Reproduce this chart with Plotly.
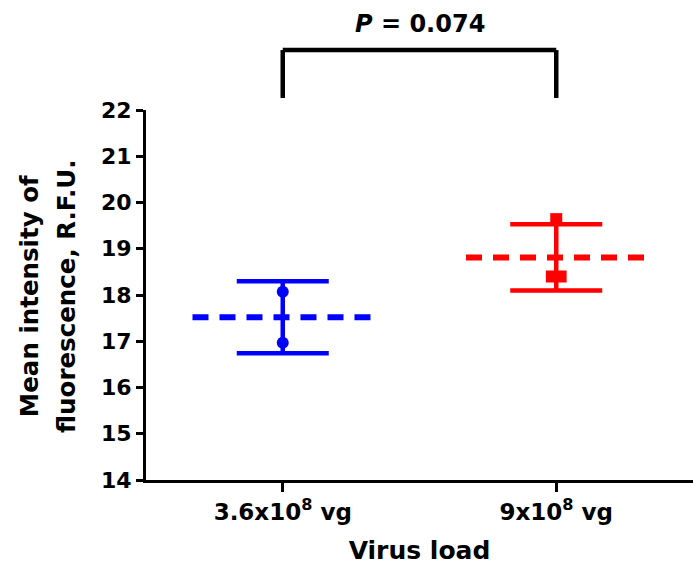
import numpy as np
import plotly.graph_objects as go

# ---- data ----
categories = ["3.6x10<sup>8</sup> vg", "9x10<sup>8</sup> vg"]
low_load_values = [18.07, 16.97]          # 3.6x10^8 vg (blue)
high_load_values = [19.64, 18.40, 18.40]  # 9x10^8 vg (red)
y_tick_values = [14, 15, 16, 17, 18, 19, 20, 21, 22]
p_value_label = "<i>P</i> = 0.074"
x_title = "Virus load"
y_title_lines = ["Mean intensity of", "fluorescence, R.F.U."]

series = [low_load_values, high_load_values]
colors = ["#0000FF", "#FF0000"]
symbols = ["circle", "square"]

FONT = "DejaVu Sans"
mean_half = 0.33      # half-length of dashed mean line (x units)
dup_step = 0.032      # side-by-side spacing for identical values


def spread(values, step):
    """Place identical values side by side (dot-plot style)."""
    offs = []
    counts = {}
    for v in values:
        counts[v] = counts.get(v, 0) + 1
    seen = {}
    for v in values:
        n = counts[v]
        k = seen.get(v, 0)
        seen[v] = k + 1
        offs.append((k - (n - 1) / 2) * step)
    return offs


fig = go.Figure()

for i, (vals, col, sym) in enumerate(zip(series, colors, symbols)):
    arr = np.array(vals)
    m = arr.mean()
    sd = arr.std(ddof=1)
    # dashed mean line
    fig.add_trace(go.Scatter(
        x=[i - mean_half, i + mean_half], y=[m, m], mode="lines",
        line=dict(color=col, width=6, dash="16px,11px"),
        hoverinfo="skip", showlegend=False, cliponaxis=False))
    # SD error bar
    fig.add_trace(go.Scatter(
        x=[i], y=[m], mode="markers",
        marker=dict(size=4, color=col),
        error_y=dict(type="data", array=[sd], visible=True,
                     color=col, thickness=4.5, width=46),
        showlegend=False, cliponaxis=False))
    # individual points
    offs = spread(vals, dup_step)
    fig.add_trace(go.Scatter(
        x=[i + o for o in offs], y=vals, mode="markers",
        marker=dict(size=12, color=col, symbol=sym, line=dict(width=0)),
        showlegend=False, cliponaxis=False))

# significance bracket
bracket_low, bracket_high = 1.0324, 1.162
for x0, y0, x1, y1 in [(0, bracket_low, 0, bracket_high),
                       (0, bracket_high, 1, bracket_high),
                       (1, bracket_high, 1, bracket_low)]:
    fig.add_shape(type="line", xref="x", yref="paper",
                  x0=x0, y0=y0, x1=x1, y1=y1,
                  line=dict(color="black", width=4.5))

fig.add_annotation(x=0.5, xref="x", y=1.232, yref="paper",
                   text=p_value_label, showarrow=False,
                   font=dict(family=FONT, size=24, color="black", weight="bold"),
                   xanchor="center", yanchor="middle")

# y-axis title, two lines
for xp, line in zip([-0.2117, -0.1442], y_title_lines):
    fig.add_annotation(x=xp, xref="paper", y=0.4975, yref="paper",
                       text=line, showarrow=False, textangle=-90,
                       font=dict(family=FONT, size=24.5, color="black", weight="bold"),
                       xanchor="center", yanchor="middle")

fig.update_layout(
    width=693, height=566,
    margin=dict(l=146, r=0, t=110, b=86, autoexpand=False),
    paper_bgcolor="white", plot_bgcolor="white",
    showlegend=False,
    xaxis=dict(
        range=[-0.5, 1.5], tickmode="array", automargin=False,
        tickvals=list(range(len(categories))), ticktext=categories,
        showline=True, linecolor="black", linewidth=3,
        ticks="outside", ticklen=9, tickwidth=3, tickcolor="black",
        showgrid=False, zeroline=False,
        tickfont=dict(family=FONT, size=23, color="black", weight="bold"),
        title=dict(text=x_title, standoff=18,
                   font=dict(family=FONT, size=25, color="black", weight="bold")),
    ),
    yaxis=dict(
        range=[14, 22], tickmode="array", tickvals=y_tick_values,
        automargin=False,
        showline=True, linecolor="black", linewidth=3,
        ticks="outside", ticklen=7, tickwidth=3, tickcolor="black",
        showgrid=False, zeroline=False,
        tickfont=dict(family=FONT, size=22, color="black", weight="bold"),
    ),
)

fig.write_html(
    "out.html",
    config={"displayModeBar": False},
    post_script=("document.body.style.margin='0';"
                 "document.body.style.padding='0';"
                 "document.body.style.overflow='hidden';"),
)
